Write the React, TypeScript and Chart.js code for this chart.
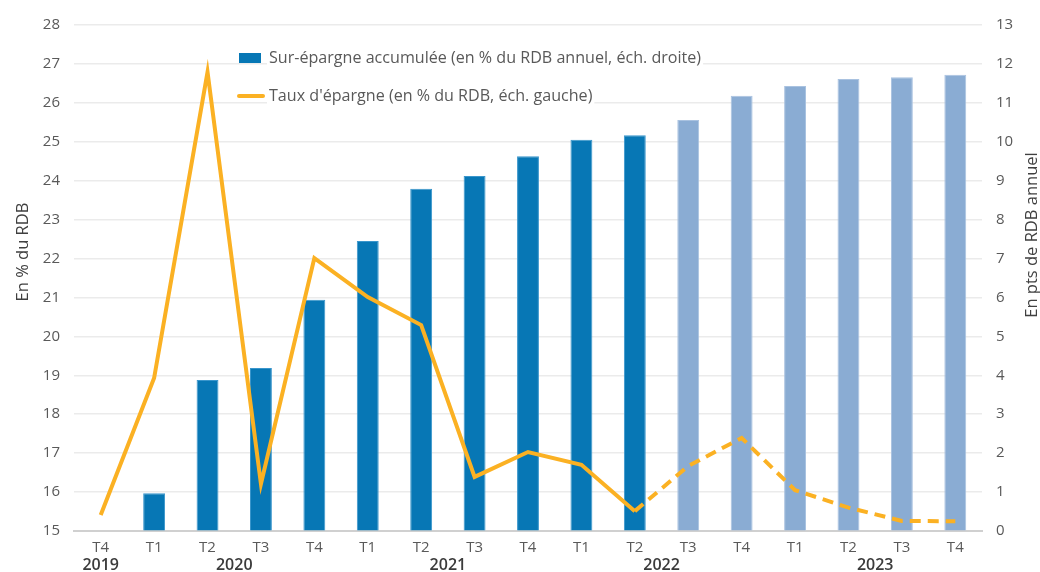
import React, { useEffect, useRef } from "react";
import { Chart, registerables } from "chart.js";

Chart.register(...registerables);

const quarters = ["T4", "T1", "T2", "T3", "T4", "T1", "T2", "T3", "T4", "T1", "T2", "T3", "T4", "T1", "T2", "T3", "T4"];
const yearLabels = ["2019", "2020", "2021", "2022", "2023"];
const yearStart = [0, 1, 5, 9, 13];
const yearEnd = [0, 4, 8, 12, 16];

// Sur-épargne accumulée (pts de RDB annuel, right axis)
const surEpargne = [null, 0.97, 3.88, 4.19, 5.94, 7.45, 8.79, 9.12, 9.63, 10.05, 10.17, 10.56, 11.18, 11.43, 11.61, 11.66, 11.72];
// Taux d'épargne (% du RDB, left axis)
const tauxEpargne = [15.41, 18.93, 26.79, 16.21, 22.01, 21.01, 20.29, 16.39, 17.03, 16.7, 15.51, 16.67, 17.39, 16.05, 15.6, 15.26, 15.25];
const firstForecast = 11;

const legendLabels = [
  "Sur-épargne accumulée (en % du RDB annuel, éch. droite)",
  "Taux d'épargne (en % du RDB, éch. gauche)",
];
const leftTitle = "En % du RDB";
const rightTitle = "En pts de RDB annuel";

const DARK = "#0777B5";
const LIGHT = "#8AACD3";
const ORANGE = "#FBB123";
const FONT = "'Open Sans', 'Noto Sans', sans-serif";
const TXT = "#595959";

const overlayPlugin = {
  id: "overlay",
  afterDraw(chart: any) {
    const ctx = chart.ctx;
    const x = chart.scales.x;
    ctx.save();
    // year labels
    ctx.font = `600 16px ${FONT}`;
    ctx.fillStyle = "#3b3b3b";
    ctx.textAlign = "center";
    ctx.textBaseline = "middle";
    for (let i = 0; i < yearLabels.length; i++) {
      const px = (x.getPixelForValue(yearStart[i]) + x.getPixelForValue(yearEnd[i])) / 2;
      ctx.fillText(yearLabels[i], px, 565);
    }
    // axis titles
    ctx.font = `16.5px ${FONT}`;
    ctx.fillStyle = "#404040";
    ctx.save();
    ctx.translate(23, 252);
    ctx.rotate(-Math.PI / 2);
    ctx.fillText(leftTitle, 0, 0);
    ctx.restore();
    ctx.save();
    ctx.translate(1032, 235);
    ctx.rotate(-Math.PI / 2);
    ctx.fillText(rightTitle, 0, 0);
    ctx.restore();
    // legend
    ctx.font = `16.1px ${FONT}`;
    ctx.textAlign = "left";
    const lx = 239;
    const y1 = 58;
    const y2 = 96;
    const w1 = ctx.measureText(legendLabels[0]).width;
    const w2 = ctx.measureText(legendLabels[1]).width;
    ctx.fillStyle = "#ffffff";
    ctx.fillRect(lx + 28, y1 - 9, w1 + 4, 18);
    ctx.fillRect(lx + 28, y2 - 9, w2 + 4, 18);
    ctx.fillStyle = DARK;
    ctx.fillRect(lx, y1 - 5, 22, 10);
    ctx.strokeStyle = ORANGE;
    ctx.lineWidth = 4;
    ctx.lineCap = "round";
    ctx.beginPath();
    ctx.moveTo(lx, y2);
    ctx.lineTo(lx + 24, y2);
    ctx.stroke();
    ctx.fillStyle = TXT;
    ctx.fillText(legendLabels[0], lx + 30, y1);
    ctx.fillText(legendLabels[1], lx + 30, y2);
    ctx.restore();
  },
};

export default function App() {
  const ref = useRef<HTMLCanvasElement>(null);
  useEffect(() => {
    if (!ref.current) return;
    const chart = new Chart(ref.current, {
      type: "bar",
      data: {
        labels: quarters,
        datasets: [
          {
            type: "line",
            label: legendLabels[1],
            data: tauxEpargne,
            yAxisID: "y",
            borderColor: ORANGE,
            backgroundColor: ORANGE,
            borderWidth: 4,
            pointRadius: 0,
            tension: 0,
            order: 0,
            segment: {
              borderDash: (c: any) => (c.p0DataIndex >= firstForecast - 1 ? [11, 7] : undefined),
            },
          } as any,
          {
            type: "bar",
            label: legendLabels[0],
            data: surEpargne,
            yAxisID: "y1",
            backgroundColor: surEpargne.map((_, i) => (i < firstForecast ? DARK : LIGHT)),
            borderColor: surEpargne.map((_, i) => (i < firstForecast ? "#3A96CC" : "#A9C2E0")),
            borderWidth: 1,
            barPercentage: 0.41,
            categoryPercentage: 1,
            order: 1,
          } as any,
        ],
      },
      options: {
        animation: false,
        responsive: true,
        maintainAspectRatio: false,
        layout: { padding: { top: 25, left: 0, right: 0, bottom: 0 } },
        plugins: {
          legend: { display: false },
          tooltip: { enabled: false },
        },
        scales: {
          x: {
            grid: { display: false, drawTicks: false },
            border: { display: true, color: "#D0D0D0", width: 2 },
            ticks: { color: TXT, font: { family: FONT, size: 15 }, padding: 8, maxRotation: 0, autoSkip: false },
            afterFit: (s: any) => {
              s.height = 41;
            },
          },
          y: {
            position: "left",
            min: 15,
            max: 28,
            grid: { color: "#EBEBEB", lineWidth: 1.5, drawTicks: false },
            border: { display: false },
            ticks: { stepSize: 1, color: TXT, font: { family: FONT, size: 15 }, padding: 14 },
            afterFit: (s: any) => {
              s.width = 74;
            },
          },
          y1: {
            position: "right",
            min: 0,
            max: 13,
            grid: { drawOnChartArea: false, drawTicks: false },
            border: { display: false },
            ticks: { stepSize: 1, color: TXT, font: { family: FONT, size: 15 }, padding: 14 },
            afterFit: (s: any) => {
              s.width = 58;
            },
          },
        },
      },
      plugins: [overlayPlugin],
    });
    return () => chart.destroy();
  }, []);
  return (
    <div style={{ position: "absolute", left: 0, top: 0, width: 1040, height: 572, background: "#fff" }}>
      <canvas ref={ref} />
    </div>
  );
}
